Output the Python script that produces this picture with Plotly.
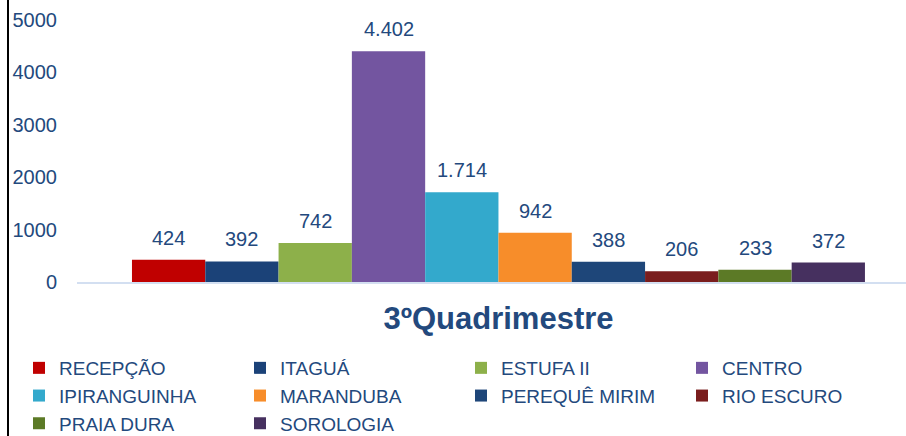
import plotly.graph_objects as go

units = ["RECEPÇÃO", "ITAGUÁ", "ESTUFA II", "CENTRO", "IPIRANGUINHA",
         "MARANDUBA", "PEREQUÊ MIRIM", "RIO ESCURO", "PRAIA DURA", "SOROLOGIA"]
values = [424, 392, 742, 4402, 1714, 942, 388, 206, 233, 372]
colors = ["#C00000", "#1B4278", "#8DB04A", "#7355A0", "#33A9CC",
          "#F78D2A", "#1E4679", "#7A1D1D", "#5C7A26", "#46305F"]
category = "3ºQuadrimestre"
y_ticks = [0, 1000, 2000, 3000, 4000, 5000]

TXT = "#23497D"
FONT = "Liberation Sans, Arial, sans-serif"

fig = go.Figure()
for i, (name, v, c) in enumerate(zip(units, values, colors)):
    fig.add_trace(go.Bar(
        x=[i], y=[v], name=name, width=1,
        marker=dict(color=c, line=dict(width=0)),
        hoverinfo="name+y",
    ))

annotations = []
for i, v in enumerate(values):
    annotations.append(dict(
        x=i, y=v, xref="x", yref="y",
        text=f"{v:,}".replace(",", "."),
        showarrow=False, yanchor="middle", yshift=22,
        font=dict(family=FONT, size=20, color=TXT),
    ))

W, H = 906, 436
ml, mr, mt, mb = 77, 0, 20, 154
pw = W - ml - mr
ph = H - mt - mb

def px_to_paper_x(px):
    return (px - ml) / pw

def px_to_paper_y(py):
    return (H - mb - py) / ph

fig.update_layout(
    width=W, height=H,
    margin=dict(l=ml, r=mr, t=mt, b=mb, pad=0, autoexpand=False),
    paper_bgcolor="white", plot_bgcolor="white",
    barmode="overlay",
    font=dict(family=FONT, color=TXT, size=20),
    showlegend=True,
    legend=dict(
        orientation="h",
        x=px_to_paper_x(19), xanchor="left",
        y=px_to_paper_y(349), yanchor="top",
        font=dict(family=FONT, size=19, color=TXT),
        entrywidth=176, entrywidthmode="pixels",
        itemclick=False, itemdoubleclick=False,
        tracegroupgap=0,
    ),
    annotations=annotations,
    shapes=[dict(type="line", xref="paper", yref="paper",
                 x0=px_to_paper_x(8), x1=px_to_paper_x(8),
                 y0=px_to_paper_y(0), y1=px_to_paper_y(436),
                 line=dict(color="black", width=2))],
    xaxis=dict(
        range=[-1.25, 10.06],
        tickvals=[4.5], ticktext=[category],
        tickfont=dict(family=FONT, size=31, color=TXT, weight="bold"),
        ticks="outside", ticklen=8, tickcolor="rgba(0,0,0,0)",
        showline=True, linecolor="#D3DFF1", linewidth=2,
        showgrid=False, zeroline=False, fixedrange=True,
    ),
    yaxis=dict(
        range=[0, 5000],
        tickvals=y_ticks, ticktext=[str(t) for t in y_ticks],
        tickfont=dict(family=FONT, size=20, color=TXT),
        ticks="outside", ticklen=15, tickcolor="rgba(0,0,0,0)",
        showline=False, showgrid=False, zeroline=False, fixedrange=True,
    ),
)

fig.write_html("out.html", config={"displayModeBar": False},
               post_script="document.body.style.margin='0';")
